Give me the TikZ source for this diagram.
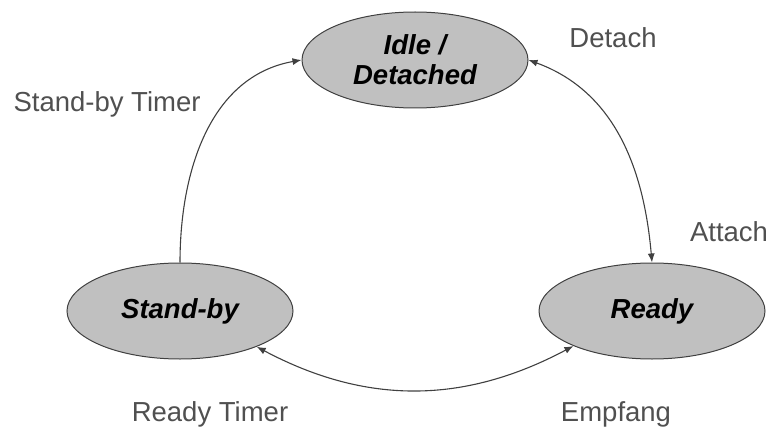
\documentclass[tikz,border=0pt]{standalone}
\usepackage{fontspec}
\setmainfont{Liberation Sans}
\usetikzlibrary{shapes.geometric,arrows.meta}

\definecolor{statefill}{HTML}{C0C0C0}
\definecolor{lineclr}{HTML}{404040}
\definecolor{labelclr}{HTML}{505050}

\begin{document}
\begin{tikzpicture}[x=1pt,y=1pt,
    >={Latex[length=9pt,width=7pt]},
    every edge/.style={draw=lineclr,line width=1.1pt}]
            \useasboundingbox (0,0) rectangle (770,429);
            \begin{scope}[every node/.style={ellipse,draw=lineclr,line width=1pt,fill=statefill,
                    minimum width=226pt,minimum height=96pt,inner sep=0pt,align=center,
                    font=\fontsize{27.5}{30}\selectfont\bfseries\itshape}]
                \node (idle) at (415,369) {Idle /\\Detached};
                \node (sb) at (180,118) {Stand-by};
                \node (rd) at (652,118) {Ready};
            \end{scope}
            \begin{scope}[every node/.style={anchor=base,text=labelclr,inner sep=0pt,
                    font=\fontsize{27.5}{30}\selectfont}]
                \node (lsbt) at (107,317) {Stand-by Timer};
                \node (ldet) at (613,381) {Detach};
                \node (latt) at (729,188) {Attach};
                \node (lrdt) at (210,8) {Ready Timer};
                \node (lemp) at (616,8) {Empfang};
            \end{scope}
            \draw (sb.north) edge [->, out=90, in=190] (idle.west);
            \draw (idle.east) edge [<->, out=-20, in=95] (rd.north);
            \draw (sb.-25) edge [<->, out=-28, in=-152] (rd.-156);
        \end{tikzpicture}
\end{document}
